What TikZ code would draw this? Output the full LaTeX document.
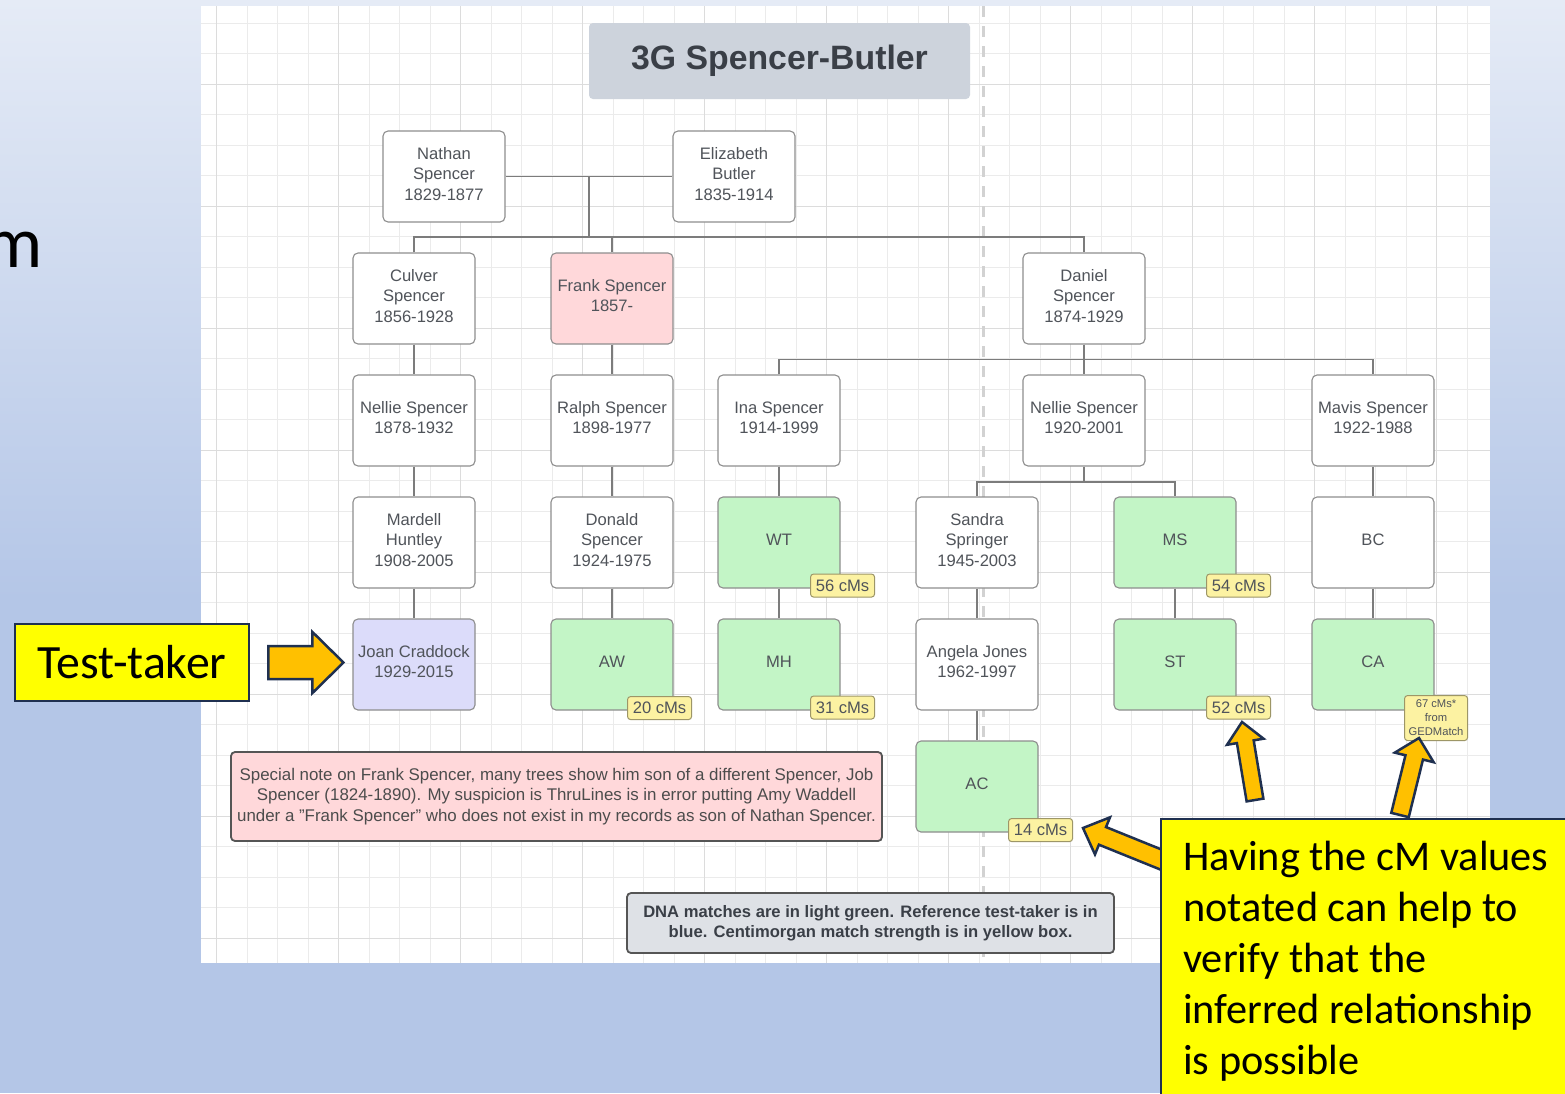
\documentclass[tikz,border=0pt]{standalone}
\usepackage{fontspec}
\setmainfont{Liberation Sans}
\newfontfamily\slidefont{Carlito}
\usetikzlibrary{calc}
\definecolor{bgtop}{HTML}{E5EBF6}
\definecolor{bgbot}{HTML}{B4C6E7}
\definecolor{gridminor}{HTML}{EBEBEB}
\definecolor{gridmajor}{HTML}{DCDCDC}
\definecolor{dashc}{HTML}{D2D2D2}
\definecolor{boxline}{HTML}{8E8E8E}
\definecolor{txtc}{HTML}{50545A}
\definecolor{linec}{HTML}{7C7C7C}
\definecolor{titlefill}{HTML}{CDD3DC}
\definecolor{titletext}{HTML}{3A3F47}
\definecolor{matchgreen}{HTML}{C3F5C6}
\definecolor{frankpink}{HTML}{FFD8DA}
\definecolor{testblue}{HTML}{DCDCFA}
\definecolor{cmfill}{HTML}{FCF2A2}
\definecolor{cmline}{HTML}{9D9667}
\definecolor{legendfill}{HTML}{DEE1E6}
\definecolor{darkline}{HTML}{555555}
\definecolor{slideyellow}{HTML}{FFFF00}
\definecolor{navy}{HTML}{1F3050}
\definecolor{arroworange}{HTML}{FFC000}
\newcommand\blkarrow[6]{% tail, tip, head length, head half width, shaft half width, name
  \coordinate (#6h) at ($(#2)!#3pt!(#1)$);
  \path[blockarrow] ($(#1)!#5pt!90:(#2)$) -- ($(#6h)!#5pt!90:(#2)$) -- ($(#6h)!#4pt!90:(#2)$)
    -- (#2) -- ($(#6h)!#4pt!-90:(#2)$) -- ($(#6h)!#5pt!-90:(#2)$) -- ($(#1)!#5pt!-90:(#2)$) -- cycle;
}
\begin{document}
\begin{tikzpicture}[x=1pt,y=-1pt,
  person/.style={draw=boxline, line width=1.1pt, rounded corners=5pt, fill=white,
    minimum width=122pt, minimum height=91pt, inner sep=1pt, align=center, text=txtc,
    text depth=6pt, font=\fontsize{16.6}{20.5}\selectfont},
  match/.style={person, fill=matchgreen},
  cmlabel/.style={draw=cmline, line width=1pt, fill=cmfill, rounded corners=3pt,
    minimum width=64pt, minimum height=23pt, inner sep=0pt, text=txtc,
    font=\fontsize{16.6}{18}\selectfont},
  link/.style={draw=linec, line width=1.2pt},
  blockarrow/.style={fill=arroworange, draw=navy, line width=2.5pt, line join=miter},
  slidebox/.style={fill=slideyellow, draw=navy, line width=2.8pt},
  slidetext/.style={anchor=base west, inner sep=0pt, text=black,
    font=\slidefont\fontsize{42.3}{51}\selectfont}
]
\useasboundingbox (0,0) rectangle (1565,1093);
% background
\fill[bgbot] (0,0) rectangle (1565,1093);
\shade[top color=bgtop, bottom color=bgbot] (0,0) rectangle (1565,600);
\node[anchor=base east, inner sep=0pt, font=\slidefont\fontsize{73}{73}\selectfont, text=black] (mtext) at (43,267) {m};
% panel with grid
\begin{scope}
  \clip (201,6) rectangle (1490,963);
  \fill[white] (201,6) rectangle (1490,963);
  \foreach \i in {0,...,42} \draw[gridminor, line width=0.9pt] ({186+30.5*\i},6) -- ({186+30.5*\i},963);
  \foreach \i in {0,...,32} \draw[gridminor, line width=0.9pt] (201,{-7.5+30.5*\i}) -- (1490,{-7.5+30.5*\i});
  \foreach \i in {0,...,10} \draw[gridmajor, line width=1pt] ({216.5+122*\i},6) -- ({216.5+122*\i},963);
  \foreach \i in {0,...,8} \draw[gridmajor, line width=1pt] (201,{-38+122*\i}) -- (1490,{-38+122*\i});
  \draw[dashc, line width=3pt, dash pattern=on 11pt off 9pt] (983,6) -- (983,963);
\end{scope}
% title
\node[fill=titlefill, rounded corners=4pt, minimum width=381pt, minimum height=76pt, inner sep=0pt,
  text=titletext, font=\bfseries\fontsize{33.8}{36}\selectfont] (title) at (779.5,61) {3G Spencer-Butler};
% people
\node[person] (nathan) at (444,176.5) {Nathan\\Spencer\\1829-1877};
\node[person] (elizabeth) at (734,176.5) {Elizabeth\\Butler\\1835-1914};
\node[person] (culver) at (414,298.5) {Culver\\Spencer\\1856-1928};
\node[person, fill=frankpink] (frank) at (612,298.5) {Frank Spencer\\1857-};
\node[person] (daniel) at (1084,298.5) {Daniel\\Spencer\\1874-1929};
\node[person] (nellieA) at (414,420.5) {Nellie Spencer\\1878-1932};
\node[person] (ralph) at (612,420.5) {Ralph Spencer\\1898-1977};
\node[person] (ina) at (779,420.5) {Ina Spencer\\1914-1999};
\node[person] (nellieB) at (1084,420.5) {Nellie Spencer\\1920-2001};
\node[person] (mavis) at (1373,420.5) {Mavis Spencer\\1922-1988};
\node[person] (mardell) at (414,542.5) {Mardell\\Huntley\\1908-2005};
\node[person] (donald) at (612,542.5) {Donald\\Spencer\\1924-1975};
\node[match] (wt) at (779,542.5) {WT};
\node[person] (sandra) at (977,542.5) {Sandra\\Springer\\1945-2003};
\node[match] (ms) at (1175,542.5) {MS};
\node[person] (bc) at (1373,542.5) {BC};
\node[person, fill=testblue] (joan) at (414,664.5) {Joan Craddock\\1929-2015};
\node[match] (aw) at (612,664.5) {AW};
\node[match] (mh) at (779,664.5) {MH};
\node[person] (angela) at (977,664.5) {Angela Jones\\1962-1997};
\node[match] (st) at (1175,664.5) {ST};
\node[match] (ca) at (1373,664.5) {CA};
\node[match] (ac) at (977,786.5) {AC};
% connectors
\draw[link] (nathan.east) -- (elizabeth.west);
\coordinate (marr) at ($(nathan.east)!0.5!(elizabeth.west)$);
\coordinate (sib1) at ($(culver.north)+(0,-15.5)$);
\draw[link] (marr) -- (marr |- sib1);
\draw[link] (culver.north) -- (sib1) -| (daniel.north);
\draw[link] (frank.north) -- (frank.north |- sib1);
\draw[link] (culver) -- (nellieA);
\draw[link] (nellieA) -- (mardell);
\draw[link] (mardell) -- (joan);
\draw[link] (frank) -- (ralph);
\draw[link] (ralph) -- (donald);
\draw[link] (donald) -- (aw);
\draw[link] (daniel) -- (nellieB);
\coordinate (sib2) at ($(daniel.south)!0.5!(nellieB.north)$);
\draw[link] (ina.north) |- (sib2) -| (mavis.north);
\draw[link] (ina) -- (wt);
\draw[link] (wt) -- (mh);
\draw[link] (nellieB.south) -- ++(0,15.5) coordinate (sib3);
\draw[link] (sandra.north) |- (sib3) -| (ms.north);
\draw[link] (sandra) -- (angela);
\draw[link] (angela) -- (ac);
\draw[link] (ms) -- (st);
\draw[link] (mavis) -- (bc);
\draw[link] (bc) -- (ca);
% cM labels
\node[cmlabel] (cmwt) at ($(wt.south east)+(2,-3)$) {56 cMs};
\node[cmlabel] (cmms) at ($(ms.south east)+(2,-3)$) {54 cMs};
\node[cmlabel] (cmaw) at ($(aw.south east)+(-14,-2.5)$) {20 cMs};
\node[cmlabel] (cmmh) at ($(mh.south east)+(2,-3)$) {31 cMs};
\node[cmlabel] (cmst) at ($(st.south east)+(2,-3)$) {52 cMs};
\node[cmlabel] (cmac) at ($(ac.south east)+(2,-2.5)$) {14 cMs};
\node[cmlabel, minimum width=63pt, minimum height=45pt, align=center,
  font=\fontsize{11.2}{14}\selectfont] (cmca) at ($(ca.south east)+(1.5,7.5)$) {67 cMs*\\from\\GEDMatch};
% notes
\node[draw=darkline, line width=1.8pt, fill=frankpink, rounded corners=4pt, minimum width=651pt,
  minimum height=89pt, inner sep=0pt, align=center, text=darkline!90!black,
  font=\fontsize{16.9}{20.3}\selectfont] (note) at (556.5,796.5)
  {Special note on Frank Spencer, many trees show him son of a different Spencer, Job\\
   Spencer (1824-1890). My suspicion is ThruLines is in error putting Amy Waddell\\
   under a "Frank Spencer" who does not exist in my records as son of Nathan Spencer.};
\node[draw=darkline, line width=1.8pt, fill=legendfill, rounded corners=4pt, minimum width=487pt,
  minimum height=60pt, inner sep=0pt, align=center, text=titletext,
  font=\bfseries\fontsize{16.6}{20}\selectfont] (legend) at (870.5,923)
  {DNA matches are in light green. Reference test-taker is in\\
   blue. Centimorgan match strength is in yellow box.};
% slide callouts
\node[slidebox, minimum width=234pt, minimum height=77pt, inner sep=0pt,
  font=\slidefont\fontsize{47.8}{50}\selectfont] (testtaker) at (132,662.5) {Test-taker};
\coordinate (a0tail) at ($(testtaker.east)+(18,0)$);
\coordinate (a0tip) at ($(joan.west)+(-9,-2)$);
\blkarrow{a0tail}{a0tip}{31}{30.5}{16.5}{a0}
\coordinate (a1tail) at (1255,800);
\coordinate (a1tip) at (1242,722);
\blkarrow{a1tail}{a1tip}{20}{18.5}{8.5}{a1}
\coordinate (a2tail) at (1400,815);
\coordinate (a2tip) at (1419,738);
\blkarrow{a2tail}{a2tip}{20}{20}{9}{a2}
\coordinate (a3tail) at (1172,864);
\coordinate (a3tip) at (1083,828);
\blkarrow{a3tail}{a3tip}{21}{20}{9.5}{a3}
\draw[slidebox] (1161,819) rectangle (1600,1120);
\node[slidetext] (h1) at (1183,870) {Having the cM values};
\node[slidetext] (h2) at (1183,921) {notated can help to};
\node[slidetext] (h3) at (1183,972) {verify that the};
\node[slidetext] (h4) at (1183,1023) {inferred relationship};
\node[slidetext] (h5) at (1183,1074) {is possible};
\end{tikzpicture}
\end{document}
